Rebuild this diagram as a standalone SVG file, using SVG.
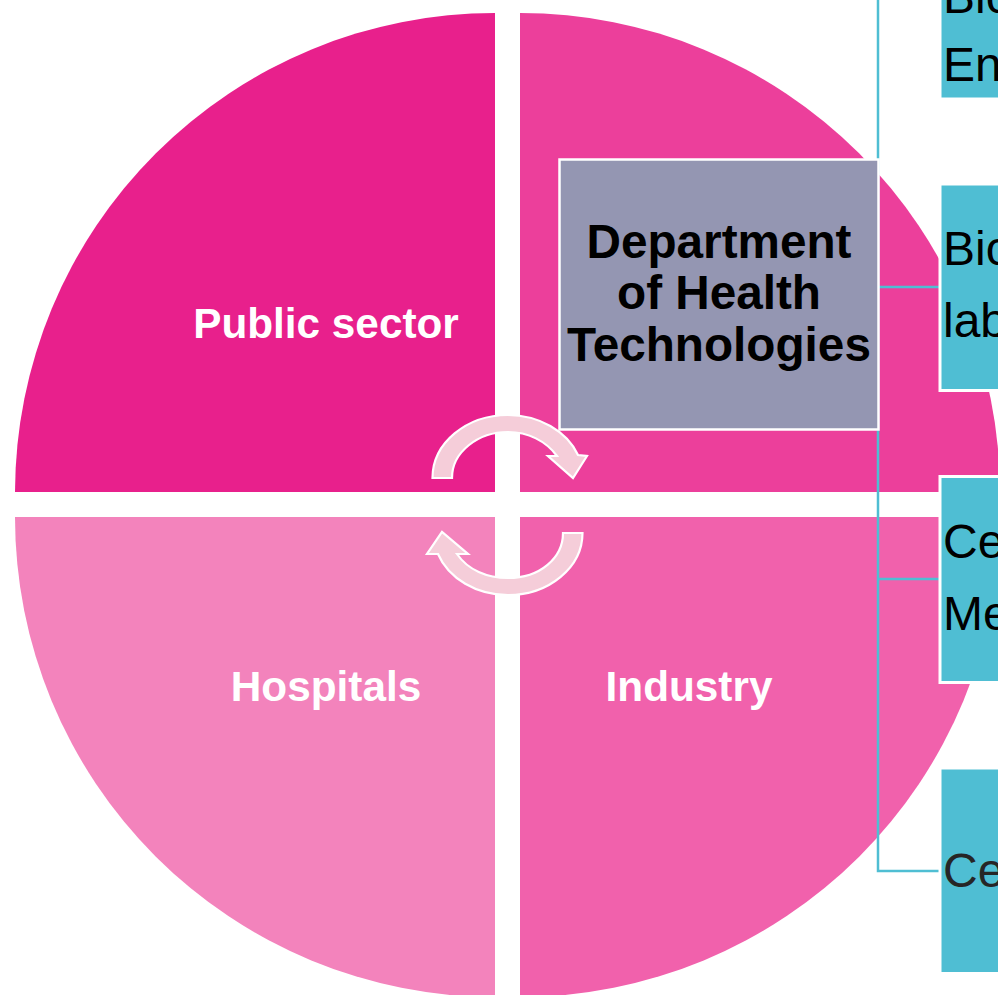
<svg xmlns="http://www.w3.org/2000/svg" width="998" height="995" viewBox="0 0 998 995">
<style>
text{font-family:"Liberation Sans",Arial,sans-serif}
.q{font-size:42.300px;font-weight:700;fill:#fff;text-anchor:middle}
.c{font-size:47.700px;font-weight:700;fill:#000;text-anchor:middle}
.b{font-size:48px;fill:#000}
.box{fill:#4FBED3;stroke:#fff;stroke-width:3}
.arr{fill:#F5CDD9;stroke:#fff;stroke-width:2.2}
.con{fill:none;stroke:#4FBED3;stroke-width:2.5}
</style>
<rect width="998" height="995" fill="#fff"/>
<g id="public-sector"><path d="M495,492V13A480,480 0 0 0 15,492Z" fill="#E8208C"/><text class="q" x="326" y="338">Public sector</text></g>
<g id="research"><path d="M520,492V13A480,480 0 0 1 1000,492Z" fill="#EC3F9B"/></g>
<g id="hospitals"><path d="M495,517V997A480,480 0 0 1 15,517Z" fill="#F383BC"/><text class="q" x="326" y="701">Hospitals</text></g>
<g id="industry"><path d="M520,517V997A480,480 0 0 0 1000,517Z" fill="#F161AC"/><text class="q" x="689" y="701">Industry</text></g>
<g id="connectors"><path class="con" d="M878,0V871H941M878,287H941M878,579H941"/></g>
<g id="cycle-top"><path class="arr" d="M432.500,478A75.500,63 0 0 1 508,415A75.500,63 0 0 1 578,455L587,456L573,478L548,456L557,456C546,441 528,432 508,432C478,432 452,452 452,478Z"/></g>
<g id="cycle-bottom"><path class="arr" d="M582.500,533A74.500,62 0 0 1 508,595A74.500,62 0 0 1 438,554L427,554L442,532L468,554L457,554C468,570 487,578 508,578C540,578 563,558 563,533Z"/></g>
<g id="department"><rect x="559.500" y="159.500" width="319" height="270" fill="#9496B2" stroke="#fff" stroke-width="2.500"/><text class="c" x="719" y="258">Department</text><text class="c" x="719" y="309">of Health</text><text class="c" x="719" y="361">Technologies</text></g>
<g id="box-1"><rect class="box" x="940" y="-20" width="70" height="119"/><text class="b" x="943" y="13">Bio</text><text class="b" x="943" y="81">En</text></g>
<g id="box-2"><rect class="box" x="940" y="184" width="70" height="206.500"/><text class="b" x="943" y="265">Bio</text><text class="b" x="943" y="337">lab</text></g>
<g id="box-3"><rect class="box" x="940" y="476.500" width="70" height="206"/><text class="b" x="943" y="558">Ce</text><text class="b" x="943" y="630">Me</text></g>
<g id="box-4"><rect class="box" x="940" y="768" width="70" height="205.500"/><text class="b" x="943" y="887" style="fill:#262626">Ce</text></g>
</svg>
